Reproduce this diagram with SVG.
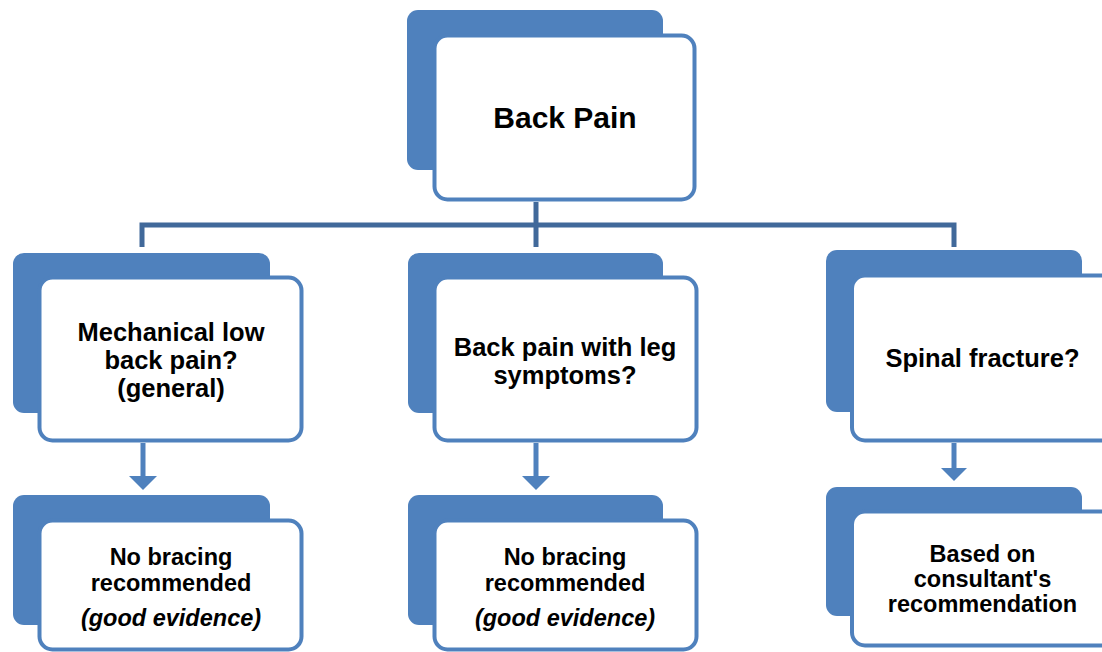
<svg xmlns="http://www.w3.org/2000/svg" width="1102" height="652" viewBox="0 0 1102 652">
  <style>
    .back { fill: #4F81BD; }
    .front { fill: #FFFFFF; stroke: #4F81BD; stroke-width: 4; }
    .tree { fill: none; stroke: #41699A; stroke-width: 5; }
    .stem { fill: none; stroke: #4F81BD; stroke-width: 5; }
    .head { fill: #4F81BD; }
    text { font-family: "Liberation Sans", Arial, sans-serif; font-weight: bold; fill: #000000; text-anchor: middle; }
    .t1 { font-size: 30px; }
    .t2 { font-size: 25.5px; }
    .t3 { font-size: 23.5px; }
    .it { font-style: italic; }
  </style>

  <!-- tree connectors -->
  <g id="connectors">
    <path class="tree" d="M536 202 V247"/>
    <path class="tree" d="M142 247 V225 H954 V247"/>
    <path class="stem" d="M143 443 V477"/>
    <polygon class="head" points="129,476 157,476 143,490"/>
    <path class="stem" d="M536 443 V477"/>
    <polygon class="head" points="522,476 550,476 536,490"/>
    <path class="stem" d="M954 443 V469"/>
    <polygon class="head" points="941,468 967,468 954,481"/>
  </g>

  <g id="root">
    <rect class="back" x="407" y="10" width="256" height="160" rx="11"/>
    <rect class="front" x="434.5" y="35.5" width="260" height="164" rx="13"/>
    <text class="t1" x="565" y="128">Back Pain</text>
  </g>

  <g id="mechanical">
    <rect class="back" x="13" y="253" width="257" height="160" rx="11"/>
    <rect class="front" x="39.5" y="277.5" width="262" height="163" rx="13"/>
    <text class="t2" x="171" y="341">Mechanical low</text>
    <text class="t2" x="171" y="369">back pain?</text>
    <text class="t2" x="171" y="397">(general)</text>
  </g>

  <g id="leg-symptoms">
    <rect class="back" x="408" y="253" width="255" height="160" rx="11"/>
    <rect class="front" x="434.5" y="277.5" width="262" height="163" rx="13"/>
    <text class="t2" x="565" y="356">Back pain with leg</text>
    <text class="t2" x="565" y="384">symptoms?</text>
  </g>

  <g id="fracture">
    <rect class="back" x="826" y="250" width="256" height="162" rx="11"/>
    <rect class="front" x="852" y="275.5" width="262" height="165" rx="13"/>
    <text class="t2" x="982.5" y="367">Spinal fracture?</text>
  </g>

  <g id="no-bracing-1">
    <rect class="back" x="13" y="495" width="257" height="130" rx="11"/>
    <rect class="front" x="39.5" y="520.5" width="262" height="129" rx="13"/>
    <text class="t3" x="171" y="565">No bracing</text>
    <text class="t3" x="171" y="591">recommended</text>
    <text class="t3 it" x="171" y="626">(good evidence)</text>
  </g>

  <g id="no-bracing-2">
    <rect class="back" x="408" y="495" width="255" height="130" rx="11"/>
    <rect class="front" x="434.5" y="520.5" width="262" height="129" rx="13"/>
    <text class="t3" x="565" y="565">No bracing</text>
    <text class="t3" x="565" y="591">recommended</text>
    <text class="t3 it" x="565" y="626">(good evidence)</text>
  </g>

  <g id="consultant">
    <rect class="back" x="826" y="487" width="256" height="129" rx="11"/>
    <rect class="front" x="852" y="511.5" width="262" height="134" rx="13"/>
    <text class="t3" x="982.5" y="562">Based on</text>
    <text class="t3" x="982.5" y="587">consultant's</text>
    <text class="t3" x="982.5" y="612">recommendation</text>
  </g>
</svg>
